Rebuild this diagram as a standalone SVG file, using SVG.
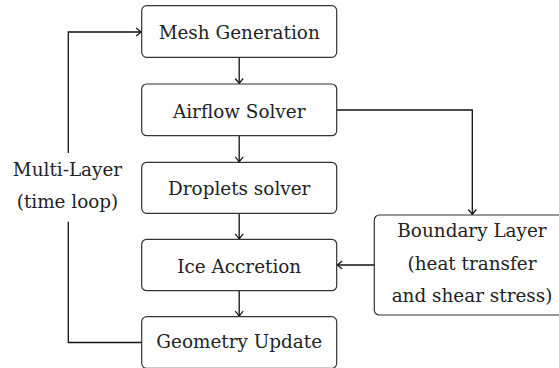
<svg xmlns="http://www.w3.org/2000/svg" width="559" height="368" viewBox="0 0 559 368">
<defs>
<style>
.box{fill:#fff;stroke:#333;stroke-width:1.2}
.t{font-family:"DejaVu Serif",serif;font-size:18.4px;fill:#222;text-anchor:middle}
.c{fill:none;stroke:#111;stroke-width:1.3}
</style>
<marker id="ah" viewBox="-6 -5 8 10" markerWidth="8" markerHeight="10" refX="0" refY="0" orient="auto" markerUnits="userSpaceOnUse">
<path d="M-5,-4 Q-1.5,-1 0,0 Q-1.5,1 -5,4" fill="none" stroke="#111" stroke-width="1.2"/>
</marker>
</defs>
<rect width="559" height="368" fill="#fff"/>
<g id="connectors">
<path class="c" d="M239.2,57.3 V83.5" marker-end="url(#ah)"/>
<path class="c" d="M239.2,135.7 V161.8" marker-end="url(#ah)"/>
<path class="c" d="M239.2,213.3 V238.8" marker-end="url(#ah)"/>
<path class="c" d="M239.2,290.7 V316.2" marker-end="url(#ah)"/>
<path class="c" d="M336.7,110 H472.3 V214.5" marker-end="url(#ah)"/>
<path class="c" d="M374.3,265 H337.2" marker-end="url(#ah)"/>
<path class="c" d="M141.7,342.5 H68.3 V221.7"/>
<path class="c" d="M68.3,153 V32 H141.2" marker-end="url(#ah)"/>
</g>
<g id="loop-label">
<text class="t" x="67.5" y="175.5">Multi-Layer</text>
<text class="t" x="67.5" y="207.5">(time loop)</text>
</g>
<g id="mesh">
<rect class="box" x="141.7" y="5.7" width="195" height="51.6" rx="5"/>
<text class="t" x="239.2" y="39.3">Mesh Generation</text>
</g>
<g id="airflow">
<rect class="box" x="141.7" y="84" width="195" height="51.7" rx="5"/>
<text class="t" x="239.2" y="117.6">Airflow Solver</text>
</g>
<g id="droplets">
<rect class="box" x="141.7" y="162.3" width="195" height="51" rx="5"/>
<text class="t" x="239.2" y="195">Droplets solver</text>
</g>
<g id="ice">
<rect class="box" x="141.7" y="239.3" width="195" height="51.4" rx="5"/>
<text class="t" x="239.2" y="272.5">Ice Accretion</text>
</g>
<g id="geometry">
<rect class="box" x="141.7" y="316.7" width="195" height="51.6" rx="5"/>
<text class="t" x="239.2" y="347.7">Geometry Update</text>
</g>
<g id="boundary">
<rect class="box" x="374.3" y="215" width="195.4" height="100" rx="5"/>
<text class="t" x="472" y="236.7">Boundary Layer</text>
<text class="t" x="472" y="269.5">(heat transfer</text>
<text class="t" x="472" y="301.7">and shear stress)</text>
</g>
</svg>
